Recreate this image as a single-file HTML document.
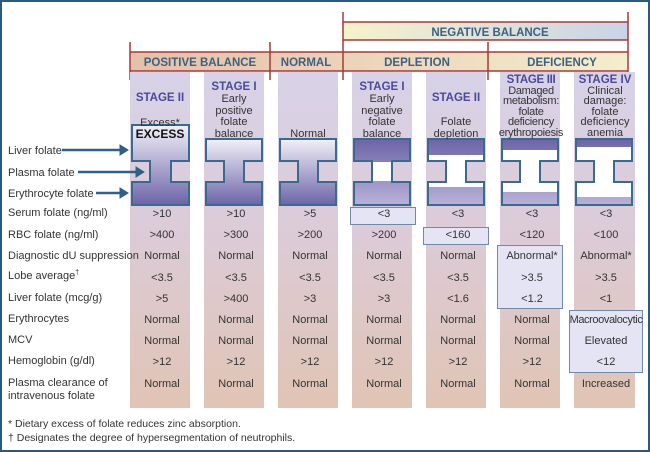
<!DOCTYPE html>
<html><head><meta charset="utf-8"><style>
body{margin:0;background:#fff}
#c{position:relative;width:646px;height:448px;border:2px solid #2b5a80;overflow:hidden;font-family:"Liberation Sans",sans-serif;color:#333}
.t{position:absolute;font-size:11px;line-height:12px;white-space:nowrap}
.cc{position:absolute;text-align:center;font-size:11px;line-height:11px;width:80px;margin-left:-40px;white-space:nowrap}
.h{color:#4a4a9a;font-weight:bold;font-size:11.5px}
.hd{position:absolute;font-weight:bold;font-size:11.5px;color:#3f6080;text-align:center;white-space:nowrap}
.bx{position:absolute;background:#e4e4f4;border:1px solid #6f8aa8}
</style></head><body><div id="c">
<svg width="646" height="448" style="position:absolute;left:0;top:0" viewBox="2 2 646 448">
<defs>
<linearGradient id="st" x1="0" y1="0" x2="0" y2="1"><stop offset="0" stop-color="#d8d2e8"/><stop offset="0.5" stop-color="#dccbd6"/><stop offset="1" stop-color="#e0c4b4"/></linearGradient>
<linearGradient id="bm" x1="0" y1="0" x2="0" y2="1"><stop offset="0" stop-color="#f2f0f8"/><stop offset="1" stop-color="#6c64a8"/></linearGradient>
<linearGradient id="bd" x1="0" y1="0" x2="0" y2="1"><stop offset="0" stop-color="#6c64a8"/><stop offset="1" stop-color="#b8b2d8"/></linearGradient>
<linearGradient id="nb" x1="0" y1="0" x2="1" y2="0"><stop offset="0" stop-color="#f6f2cc"/><stop offset="1" stop-color="#c8d4e6"/></linearGradient>
<linearGradient id="hb" x1="0" y1="0" x2="1" y2="0"><stop offset="0" stop-color="#e4c0a8"/><stop offset="0.5" stop-color="#ecd6bc"/><stop offset="1" stop-color="#f4eecc"/></linearGradient>
</defs>
<rect x="343" y="22" width="285" height="18" fill="url(#nb)"/>
<rect x="130" y="52" width="498" height="19" fill="url(#hb)"/>
<g stroke="#a83838" stroke-width="1.5">
<line x1="343" y1="22" x2="628" y2="22"/><line x1="343" y1="40" x2="628" y2="40"/>
<line x1="130" y1="52" x2="628" y2="52"/><line x1="130" y1="71" x2="628" y2="71"/>
<line x1="343" y1="12" x2="343" y2="80"/><line x1="628" y1="12" x2="628" y2="80"/>
<line x1="130" y1="42" x2="130" y2="80"/><line x1="270" y1="42" x2="270" y2="80"/><line x1="488" y1="42" x2="488" y2="80"/>
</g>
<g fill="url(#st)">
<rect x="130" y="72" width="60" height="336"/><rect x="204" y="72" width="60" height="336"/><rect x="278" y="72" width="60" height="336"/><rect x="352" y="72" width="60" height="336"/><rect x="426" y="72" width="60" height="336"/><rect x="500" y="72" width="60" height="336"/><rect x="574" y="72" width="61" height="336"/>
</g>
<g stroke="#3a6a90" stroke-width="2">
<path d="M132,125H189V161H171V182H189V205H132V182H150V161H132Z" fill="url(#bm)"/>
<path d="M206,139H262V161H244V182H262V205H206V182H224V161H206Z" fill="url(#bm)"/>
<path d="M280,139H336V161H318V182H336V205H280V182H298V161H280Z" fill="url(#bm)"/>
<path d="M354,139H410V161H392V182H410V205H354V182H372V161H354Z" fill="url(#bd)"/>
<path d="M428,139H484V161H466V182H484V205H428V182H446V161H428Z" fill="url(#bd)"/>
<path d="M502,139H558V161H540V182H558V205H502V182H520V161H502Z" fill="url(#bd)"/>
<path d="M576,139H632V161H614V182H632V205H576V182H594V161H576Z" fill="url(#bd)"/>
</g>
<g fill="#fff">
<rect x="373" y="162" width="18" height="19"/>
<rect x="429" y="155" width="54" height="5"/><rect x="447" y="160" width="18" height="23"/><rect x="429" y="183" width="54" height="4"/>
<rect x="503" y="150" width="54" height="10"/><rect x="521" y="160" width="18" height="23"/><rect x="503" y="183" width="54" height="9"/>
<rect x="577" y="147" width="54" height="13"/><rect x="595" y="160" width="18" height="23"/><rect x="577" y="183" width="54" height="14"/>
</g>
<g stroke="#3a6a90" stroke-width="2" fill="none">
<path d="M428,139H484V161H466V182H484V205H428V182H446V161H428Z"/>
<path d="M502,139H558V161H540V182H558V205H502V182H520V161H502Z"/>
<path d="M576,139H632V161H614V182H632V205H576V182H594V161H576Z"/>
<path d="M354,139H410V161H392V182H410V205H354V182H372V161H354Z"/>
</g>
<g stroke="#2e6088" stroke-width="2.5" fill="#2e6088">
<line x1="62" y1="150" x2="122" y2="150"/><path d="M128,150l-8,-5v10z" stroke-width="1"/>
<line x1="78" y1="172" x2="138" y2="172"/><path d="M144,172l-8,-5v10z" stroke-width="1"/>
<line x1="96" y1="193" x2="122" y2="193"/><path d="M128,193l-8,-5v10z" stroke-width="1"/>
</g>
</svg>
<div class="hd" style="left:428px;top:25px;width:120px">NEGATIVE BALANCE</div>
<div class="hd" style="left:138px;top:55px;width:120px">POSITIVE BALANCE</div>
<div class="hd" style="left:268px;top:55px;width:72px">NORMAL</div>
<div class="hd" style="left:370px;top:55px;width:90px">DEPLETION</div>
<div class="hd" style="left:510px;top:55px;width:100px">DEFICIENCY</div>

<div class="cc h" style="left:158px;top:91px">STAGE II</div>
<div class="cc" style="left:158px;top:116px">Excess*</div>
<div class="cc" style="left:158px;top:127px;font-weight:bold;color:#111;font-size:12px">EXCESS</div>
<div class="cc" style="left:232px;top:80px;line-height:11.8px"><span class="h">STAGE I</span><br>Early<br>positive<br>folate<br>balance</div>
<div class="cc" style="left:306px;top:127px">Normal</div>
<div class="cc" style="left:380px;top:80px;line-height:11.8px"><span class="h">STAGE I</span><br>Early<br>negative<br>folate<br>balance</div>
<div class="cc h" style="left:454px;top:91px">STAGE II</div>
<div class="cc" style="left:454px;top:115px;line-height:11.8px">Folate<br>depletion</div>
<div class="cc" style="left:529px;top:73px;line-height:10.6px;letter-spacing:-0.3px"><span class="h">STAGE III</span><br>Damaged<br>metabolism:<br>folate<br>deficiency<br>erythropoiesis</div>
<div class="cc" style="left:603px;top:73px;line-height:10.6px"><span class="h">STAGE IV</span><br>Clinical<br>damage:<br>folate<br>deficiency<br>anemia</div>

<div class="t" style="left:6px;top:143px">Liver folate</div>
<div class="t" style="left:6px;top:165px">Plasma folate</div>
<div class="t" style="left:6px;top:186px">Erythrocyte folate</div>

<div class="bx" style="left:348px;top:205px;width:64px;height:16px"></div>
<div class="bx" style="left:421px;top:225px;width:64px;height:16px"></div>
<div class="bx" style="left:495px;top:243px;width:64px;height:62px"></div>
<div class="bx" style="left:567px;top:308px;width:72px;height:61px"></div>

<div class="t" style="left:6px;top:205px">Serum folate (ng/ml)</div>
<div class="t" style="left:6px;top:227px">RBC folate (ng/ml)</div>
<div class="t" style="left:6px;top:248px">Diagnostic dU suppression</div>
<div class="t" style="left:6px;top:268px">Lobe average<sup style="font-size:7px;line-height:0">†</sup></div>
<div class="t" style="left:6px;top:290px">Liver folate (mcg/g)</div>
<div class="t" style="left:6px;top:311px">Erythrocytes</div>
<div class="t" style="left:6px;top:332px">MCV</div>
<div class="t" style="left:6px;top:353px">Hemoglobin (g/dl)</div>
<div class="t" style="left:6px;top:375px;line-height:13px">Plasma clearance of<br>intravenous folate</div>

<div class="cc" style="left:160px;top:202px;line-height:21.2px">&gt;10<br>&gt;400<br>Normal<br>&lt;3.5<br>&gt;5<br>Normal<br>Normal<br>&gt;12<br>Normal</div>
<div class="cc" style="left:234px;top:202px;line-height:21.2px">&gt;10<br>&gt;300<br>Normal<br>&lt;3.5<br>&gt;400<br>Normal<br>Normal<br>&gt;12<br>Normal</div>
<div class="cc" style="left:308px;top:202px;line-height:21.2px">&gt;5<br>&gt;200<br>Normal<br>&lt;3.5<br>&gt;3<br>Normal<br>Normal<br>&gt;12<br>Normal</div>
<div class="cc" style="left:382px;top:202px;line-height:21.2px">&lt;3<br>&gt;200<br>Normal<br>&lt;3.5<br>&gt;3<br>Normal<br>Normal<br>&gt;12<br>Normal</div>
<div class="cc" style="left:456px;top:202px;line-height:21.2px">&lt;3<br>&lt;160<br>Normal<br>&lt;3.5<br>&lt;1.6<br>Normal<br>Normal<br>&gt;12<br>Normal</div>
<div class="cc" style="left:530px;top:202px;line-height:21.2px">&lt;3<br>&lt;120<br>Abnormal*<br>&gt;3.5<br>&lt;1.2<br>Normal<br>Normal<br>&gt;12<br>Normal</div>
<div class="cc" style="left:604px;top:202px;line-height:21.2px">&lt;3<br>&lt;100<br>Abnormal*<br>&gt;3.5<br>&lt;1<br><span style="letter-spacing:-0.4px">Macroovalocytic</span><br>Elevated<br>&lt;12<br>Increased</div>

<div class="t" style="left:6px;top:416px;font-size:10.5px">* Dietary excess of folate reduces zinc absorption.</div>
<div class="t" style="left:6px;top:430px;font-size:10.5px">† Designates the degree of hypersegmentation of neutrophils.</div>
</div></body></html>
